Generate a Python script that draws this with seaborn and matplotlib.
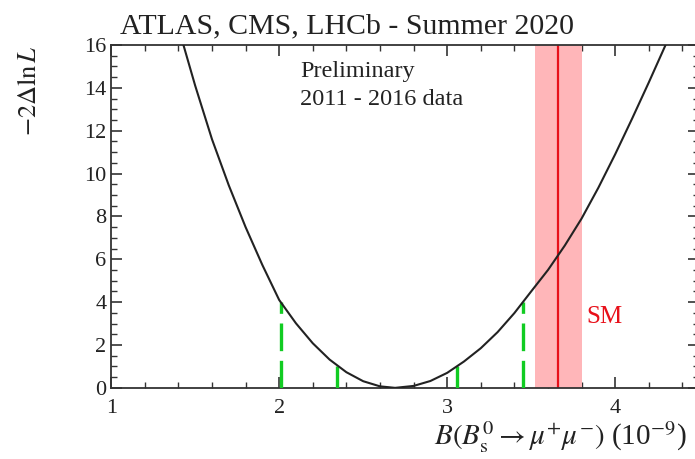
import numpy as np
import pandas as pd
import matplotlib.pyplot as plt
import seaborn as sns
from matplotlib.ticker import MultipleLocator

# Curva -2 Delta lnL
bf_x = [1.40, 1.43, 1.5, 1.6, 1.7, 1.8, 1.9, 2.0, 2.1, 2.2, 2.3, 2.4, 2.5, 2.6, 2.69,
        2.8, 2.9, 3.0, 3.1, 3.2, 3.3, 3.4, 3.5, 3.6, 3.7, 3.8, 3.9, 4.0, 4.1, 4.2, 4.3, 4.35]
nll = [16.8, 16.0, 14.1, 11.6, 9.45, 7.5, 5.73, 4.1, 3.01, 2.08, 1.32, 0.73, 0.31, 0.07, 0.0,
       0.09, 0.32, 0.70, 1.23, 1.85, 2.60, 3.49, 4.50, 5.50, 6.64, 7.9, 9.34, 10.9, 12.55, 14.25, 16.0, 17.2]

# Intervalos (1 y 2 sigma)
int_x = [2.01, 2.345, 3.06, 3.45]
int_y = [4.0, 1.0, 1.0, 4.0]

# Prediccion del SM
sm_val = 3.66
sm_lo = 3.52
sm_hi = 3.80

df = pd.DataFrame({"x": bf_x, "y": nll})

sns.set_style("ticks")
plt.rcParams["font.family"] = ["Liberation Serif", "DejaVu Serif"]
plt.rcParams["mathtext.fontset"] = "stix"

fig = plt.figure(figsize=(6.95, 4.59), dpi=100)
ax = fig.add_axes([0.160, 0.155, 0.846, 0.747])

ax.axvspan(sm_lo, sm_hi, color="#ffb6b9", lw=0, zorder=1)
ax.axvline(sm_val, color="#e8101a", lw=1.6, zorder=2)

for xv, yv in zip(int_x, int_y):
    ax.plot([xv, xv], [0, yv], color="#11cc22", lw=2.4, ls=(0, (8.3, 2.9)), zorder=3)

sns.lineplot(data=df, x="x", y="y", color="#222222", lw=1.5, ax=ax, zorder=4)

ax.set_xlim(1, 4.5)
ax.set_ylim(0, 16)
ax.xaxis.set_major_locator(MultipleLocator(1))
ax.xaxis.set_minor_locator(MultipleLocator(0.2))
ax.yaxis.set_major_locator(MultipleLocator(2))
ax.yaxis.set_minor_locator(MultipleLocator(0.5))
ax.tick_params(which="both", direction="in", top=True, right=True, labelsize=16,
               color="#333333", labelcolor="#222222")
ax.tick_params(which="major", length=8, width=1.2)
ax.tick_params(axis="x", which="major", pad=8)
ax.tick_params(which="minor", length=4.5, width=1.0)
for s in ax.spines.values():
    s.set_linewidth(1.3)
    s.set_color("#333333")
ax.set_xlabel("")
ax.set_ylabel("")

ax.text(2.125, 14.5, "Preliminary", fontsize=17.5, color="#222222")
ax.text(2.125, 13.2, "2011 - 2016 data", fontsize=17.5, color="#222222")
ax.text(3.83, 3.03, "SM", fontsize=18, color="#e8101a")

fig.text(0.172, 1 - 33 / 459, "ATLAS, CMS, LHCb - Summer 2020", fontsize=21.5,
         color="#222222", va="baseline")
fig.text(30 / 695, 1 - 45 / 459, r"$-2\Delta\ln L$", fontsize=19, rotation=90,
         ha="center", va="top", color="#222222")
fig.text(434 / 695, 1 - 445 / 459, r"$B(B_{\rm s}^{0} \to \mu^{+}\mu^{-})$ (10$^{-9}$)",
         fontsize=21, va="baseline", color="#222222")

fig.savefig("out.png", dpi=100)
